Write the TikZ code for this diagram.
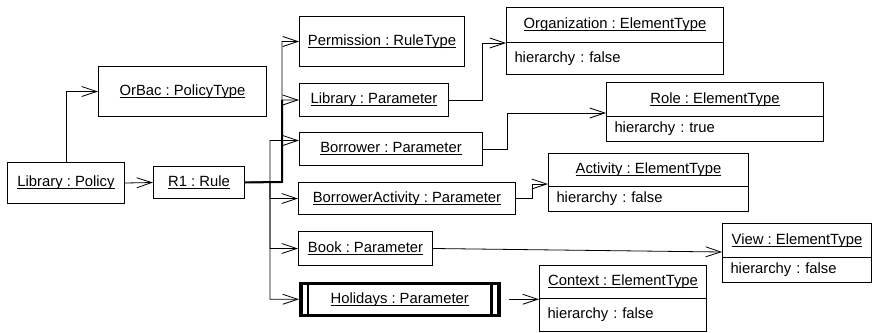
\documentclass[tikz,border=0pt]{standalone}
\usepackage{fontspec}
\setmainfont{Liberation Sans}
\usetikzlibrary{arrows.meta}
\frenchspacing
\newcommand\ulin[1]{\leavevmode\setbox0\hbox{#1}\rlap{\rule[-2.4pt]{\wd0}{0.8pt}}\box0}
\begin{document}
\begin{tikzpicture}[x=1pt,y=-1pt,
  every node/.style={font=\fontsize{14.8}{17}\selectfont},
  obj/.style 2 args={draw, line width=1pt, inner sep=0pt, anchor=north west, minimum width=#1, minimum height=#2},
  attr/.style 2 args={draw, line width=1pt, inner ysep=0pt, inner xsep=8pt, anchor=north west, text width=#1, align=left, minimum height=#2},
  conn/.style={line width=0.8pt, -{Straight Barb[length=15pt,width=10pt]}},
]
\useasboundingbox (0,0) rectangle (872,332);

% objects
\node[obj={117pt}{41pt}] (lp) at (7,162) {\ulin{Library : Policy}};
\node[obj={168pt}{50pt}] (orbac) at (98,66) {\ulin{OrBac : PolicyType}};
\node[obj={91pt}{32pt}] (r1) at (153,166) {\ulin{R1 : Rule}};
\node[obj={165pt}{50pt}] (perm) at (299,16) {\ulin{Permission : RuleType}};
\node[obj={149pt}{33pt}] (libp) at (299,83) {\ulin{Library : Parameter}};
\node[obj={183pt}{33pt}] (bor) at (299,132) {\ulin{Borrower : Parameter}};
\node[obj={217pt}{32pt}] (ba) at (298,182) {\ulin{BorrowerActivity : Parameter}};
\node[obj={134pt}{34pt}] (book) at (298,231) {\ulin{Book : Parameter}};
\node[obj={198pt}{32pt}, line width=3.5pt] (hol) at (299,281.5) {\ulin{Holidays : Parameter}};
\draw[line width=2.8pt] ([xshift=9pt]hol.north west) -- ([xshift=9pt]hol.south west);
\draw[line width=2.8pt] ([xshift=-9pt]hol.north east) -- ([xshift=-9pt]hol.south east);

% element types
\node[obj={217pt}{35pt}] (orgh) at (506,7) {\ulin{Organization : ElementType}};
\node[attr={201pt}{32pt}] (orga) at (506,42) {hierarchy : false};
\node[obj={217pt}{34pt}] (roleh) at (606,82) {\ulin{Role : ElementType}};
\node[attr={201pt}{25pt}] (rolea) at (606,116) {hierarchy : true};
\node[obj={200pt}{33pt}] (acth) at (548,153) {\ulin{Activity : ElementType}};
\node[attr={184pt}{25pt}] (acta) at (548,186) {hierarchy : false};
\node[obj={149pt}{34pt}] (viewh) at (722,223) {\ulin{View : ElementType}};
\node[attr={133pt}{25pt}] (viewa) at (722,257) {hierarchy : false};
\node[obj={167pt}{33pt}] (ctxh) at (539,265) {\ulin{Context : ElementType}};
\node[attr={151pt}{33pt}] (ctxa) at (539,298) {hierarchy : false};

% junctions
\coordinate (j1) at (282,182);
\coordinate (j2) at (270,182);

% connectors
\draw[conn] ([xshift=59pt]lp.north west) |- (orbac.west);
\draw[conn] (lp.east) -- (r1.west);
\draw[conn] (r1.east) -- (j1) |- (perm.west);
\draw[conn] (r1.east) -- (j1) |- (libp.west);
\draw[line width=2pt] (r1.east) -- (j1) -- (j1 |- libp.west);
\draw[conn] (r1.east) -- (j2) |- ([yshift=8.5pt]bor.west);
\draw[conn] (r1.east) -- (j2) |- (ba.west);
\draw[conn] (r1.east) -- (j2) |- (book.west);
\draw[conn] (r1.east) -- (j2) |- (hol.west);

\draw[conn] (libp.east) -- ++(33,0) |- (orgh.south west);
\draw[conn] (bor.east) -- ++(24,0) |- ([yshift=4pt]roleh.south west);
\draw[conn] (ba.east) -- ++(16,0) |- ([yshift=3pt]acth.south west);
\draw[conn] (book.east) -- ([yshift=6pt]viewh.south west);
\draw[conn] ([xshift=8pt]hol.east) -- (hol.east -| ctxh.west);
\end{tikzpicture}
\end{document}
